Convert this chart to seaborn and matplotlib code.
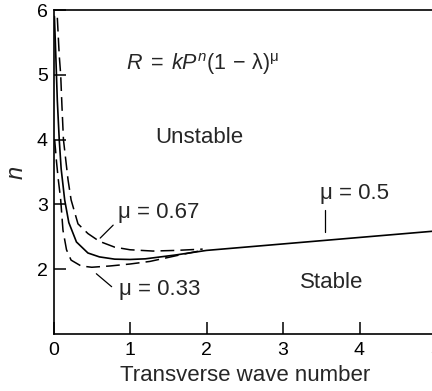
import matplotlib
matplotlib.use('Agg')
import matplotlib.pyplot as plt
import seaborn as sns

# --- 곡선 데이터 ---
x_mu050 = [0.012, 0.03, 0.05, 0.075, 0.10, 0.146, 0.20, 0.30, 0.45, 0.60, 0.80, 1.00,
           1.20, 1.60, 2.00, 2.50, 3.00, 3.50, 4.00, 4.50, 5.00]
y_mu050 = [5.90, 5.30, 4.60, 4.00, 3.55, 3.07, 2.72, 2.42, 2.25, 2.19, 2.155, 2.15,
           2.16, 2.22, 2.29, 2.34, 2.39, 2.44, 2.49, 2.54, 2.59]

x_mu067 = [0.05, 0.075, 0.094, 0.11, 0.13, 0.19, 0.23, 0.32, 0.45, 0.60, 0.80, 1.00,
           1.30, 1.60, 1.95]
y_mu067 = [5.88, 5.30, 5.00, 4.53, 4.00, 3.38, 3.07, 2.70, 2.55, 2.43, 2.34, 2.30,
           2.28, 2.29, 2.31]

x_mu033 = [0.015, 0.04, 0.063, 0.094, 0.124, 0.17, 0.23, 0.36, 0.50, 0.74, 1.00,
           1.26, 1.65, 1.90]
y_mu033 = [4.00, 3.65, 3.38, 3.07, 2.60, 2.30, 2.14, 2.05, 2.03, 2.05, 2.08,
           2.12, 2.22, 2.28]

x_ticks = [0, 1, 2, 3, 4, 5]
y_ticks = [2, 3, 4, 5, 6]

sns.set_style('ticks')
plt.rcParams['font.family'] = ['Liberation Sans', 'DejaVu Sans']
plt.rcParams['mathtext.fontset'] = 'custom'
plt.rcParams['mathtext.rm'] = 'Liberation Sans'
plt.rcParams['mathtext.it'] = 'Liberation Sans:italic'

fig = plt.figure(figsize=(4.32, 3.91), dpi=100)
ax = fig.add_axes([53.5 / 432, 57 / 391, 382.5 / 432, 324 / 391])

dash = (0, (9, 4))
sns.lineplot(x=x_mu050, y=y_mu050, ax=ax, color='black', linewidth=1.2, sort=False)
sns.lineplot(x=x_mu067, y=y_mu067, ax=ax, color='black', linewidth=1.1, sort=False,
             linestyle=dash)
sns.lineplot(x=x_mu033, y=y_mu033, ax=ax, color='black', linewidth=1.1, sort=False,
             linestyle=dash)

# 라벨과 지시선
ax.text(1.95, 5.17, r'$R\;=\;kP^{n}(1\,-\,\mathrm{\lambda})^{\mathrm{\mu}}$',
        ha='center', va='center', fontsize=15.5)
ax.text(1.90, 4.04, 'Unstable', ha='center', va='center', fontsize=16)
ax.text(3.64, 1.79, 'Stable', ha='center', va='center', fontsize=16)
ax.text(1.37, 2.87, 'μ = 0.67', ha='center', va='center', fontsize=16)
ax.text(1.39, 1.68, 'μ = 0.33', ha='center', va='center', fontsize=16)
ax.text(3.93, 3.17, 'μ = 0.5', ha='center', va='center', fontsize=16)
ax.plot([0.61, 0.78], [2.48, 2.68], color='black', linewidth=0.9)
ax.plot([0.56, 0.76], [1.93, 1.73], color='black', linewidth=0.9)
ax.plot([3.55, 3.55], [2.58, 2.91], color='black', linewidth=0.9)

ax.set_xlim(0, 5)
ax.set_ylim(1, 6)
ax.set_xticks(x_ticks)
ax.set_yticks(y_ticks)
ax.tick_params(direction='in', length=8.4, width=1.1, labelsize=14, colors='black')
ax.tick_params(axis='x', pad=6)
ax.tick_params(axis='y', pad=4)
for side in ['left', 'bottom', 'top']:
    ax.spines[side].set_linewidth(1.2)
    ax.spines[side].set_color('black')
ax.spines['right'].set_visible(False)

ax.set_xlabel('Transverse wave number', fontsize=16, labelpad=4)
ax.set_ylabel('n', fontsize=17, style='italic', labelpad=7)

fig.savefig('out.png', dpi=100)
